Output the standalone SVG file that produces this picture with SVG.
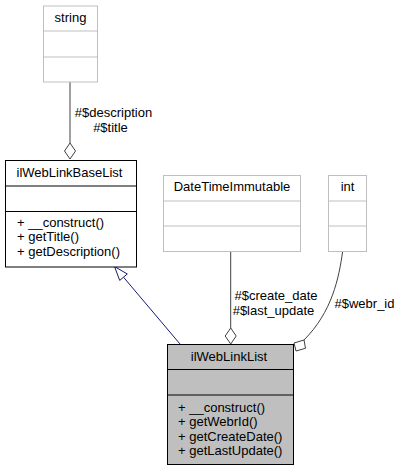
<svg xmlns="http://www.w3.org/2000/svg" width="400" height="471" viewBox="0 0 400 471">
<style>
text{font-family:"Liberation Sans",Arial,sans-serif;font-size:13px;fill:#000}
.c{text-anchor:middle}
.box{fill:#fff;stroke:#000;stroke-width:1}
.ext{fill:#fff;stroke:#bfbfbf;stroke-width:1}
.cur{fill:#bfbfbf;stroke:#000;stroke-width:1}
.sep{stroke:#000;stroke-width:1}
.sepl{stroke:#bfbfbf;stroke-width:1}
.agg{fill:none;stroke:#404040;stroke-width:1}
.dia{fill:#fff;stroke:#404040;stroke-width:1}
.inh{fill:none;stroke:#191970;stroke-width:1}
.tri{fill:#fff;stroke:#191970;stroke-width:1}
</style>
<rect width="400" height="471" fill="#fff"/>
<g id="connectors">
<path class="agg" d="M70,82 V143"/>
<polygon class="dia" points="70,143 75.5,151 70,159 64.5,151"/>
<path class="agg" d="M230.7,251 V328"/>
<polygon class="dia" points="230.7,328 236.2,336 230.7,344 225.2,336"/>
<path class="agg" d="M342.7,251 C339,278 332,312 304,340"/>
<polygon class="dia" points="304,340 305.5,348.3 296,351 294,343"/>
<path class="inh" d="M180,344 L123.5,277.2"/>
<polygon class="tri" points="114.5,266.5 119.7,280.4 127.3,274"/>
</g>
<g id="labels">
<text class="c" x="113.5" y="117">#$description</text>
<text class="c" x="110.5" y="132">#$title</text>
<text class="c" x="276" y="300">#$create_date</text>
<text class="c" x="273.5" y="315">#$last_update</text>
<text class="c" x="364.5" y="308">#$webr_id</text>
</g>
<g id="node-string">
<rect class="ext" x="43.5" y="6" width="54" height="76"/>
<line class="sepl" x1="43.5" y1="31" x2="97.5" y2="31"/>
<line class="sepl" x1="43.5" y1="57" x2="97.5" y2="57"/>
<text class="c" x="70.5" y="22">string</text>
</g>
<g id="node-ilWebLinkBaseList">
<rect class="box" x="5.5" y="160.5" width="131" height="106.5"/>
<line class="sep" x1="5.5" y1="186" x2="136.5" y2="186"/>
<line class="sep" x1="5.5" y1="211.5" x2="136.5" y2="211.5"/>
<text class="c" x="69.5" y="177">ilWebLinkBaseList</text>
<text x="17" y="226.5">+ __construct()</text>
<text x="17" y="241">+ getTitle()</text>
<text x="17" y="255.5">+ getDescription()</text>
</g>
<g id="node-DateTimeImmutable">
<rect class="ext" x="163.5" y="175.5" width="137" height="76"/>
<line class="sepl" x1="163.5" y1="201" x2="300.5" y2="201"/>
<line class="sepl" x1="163.5" y1="226" x2="300.5" y2="226"/>
<text class="c" x="232" y="191">DateTimeImmutable</text>
</g>
<g id="node-int">
<rect class="ext" x="328.5" y="175.5" width="38" height="76"/>
<line class="sepl" x1="328.5" y1="201" x2="366.5" y2="201"/>
<line class="sepl" x1="328.5" y1="226" x2="366.5" y2="226"/>
<text class="c" x="347.5" y="191">int</text>
</g>
<g id="node-ilWebLinkList">
<rect class="cur" x="167.5" y="344.5" width="126" height="120"/>
<line class="sep" x1="167.5" y1="369.5" x2="293.5" y2="369.5"/>
<line class="sep" x1="167.5" y1="395" x2="293.5" y2="395"/>
<text class="c" x="229" y="361">ilWebLinkList</text>
<text x="178" y="411.5">+ __construct()</text>
<text x="178" y="426">+ getWebrId()</text>
<text x="178" y="440.5">+ getCreateDate()</text>
<text x="178" y="455">+ getLastUpdate()</text>
</g>
</svg>
